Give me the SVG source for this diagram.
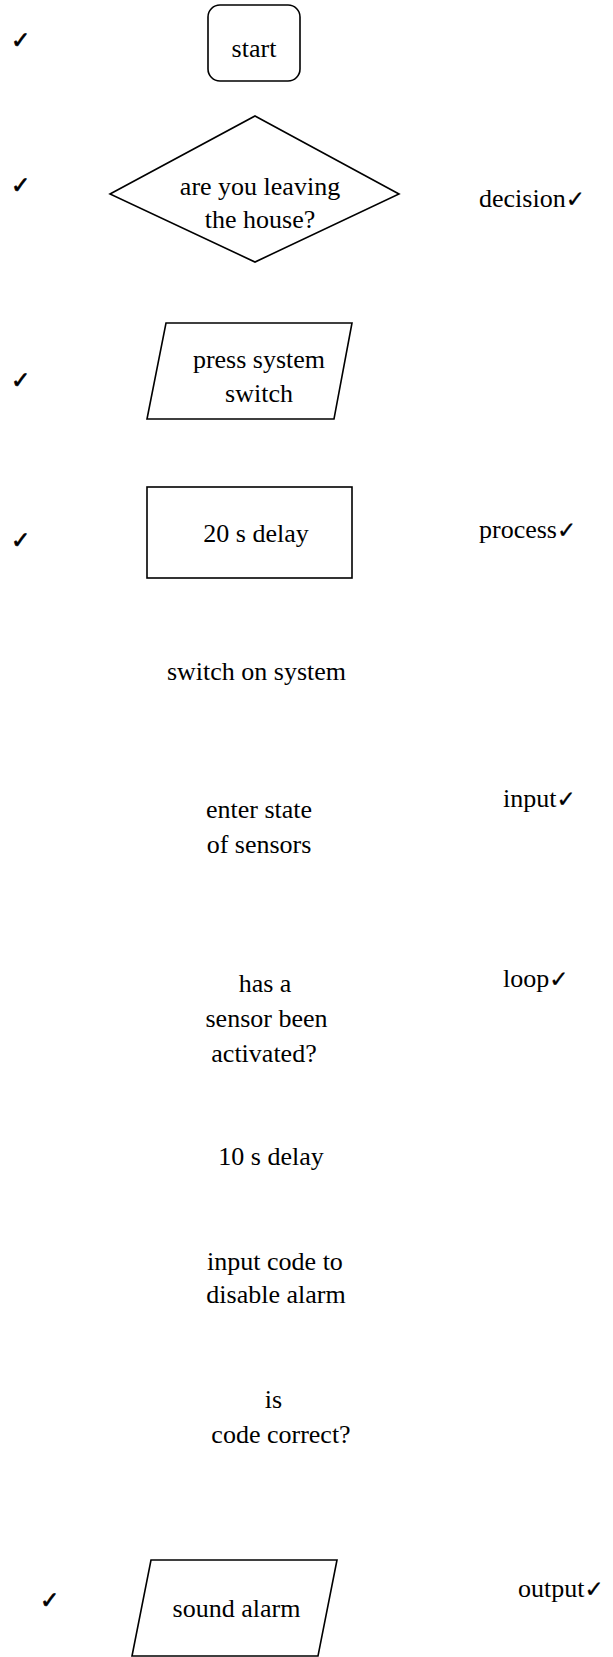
<svg xmlns="http://www.w3.org/2000/svg" width="613" height="1657" viewBox="0 0 613 1657">
<style>
.s{fill:#fff;stroke:#000;stroke-width:1.6}
.t{font-family:"Liberation Serif","Times New Roman",serif;font-size:26px;fill:#000;text-anchor:middle}
.l{font-family:"Liberation Serif","Times New Roman",serif;font-size:26px;fill:#000}
.c{font-family:"DejaVu Sans",sans-serif;font-size:23px;fill:#000;stroke:#000;stroke-width:0.7}
.k{font-family:"DejaVu Sans",sans-serif;font-size:23px;fill:#000;stroke:#000;stroke-width:0.3}
</style>
<rect width="613" height="1657" fill="#fff"/>
<g id="connectors"/>
<g id="start"><rect class="s" x="208" y="5" width="92" height="76" rx="12"/><text class="t" x="254" y="57">start</text></g>
<g id="decision1"><polygon class="s" points="255,116 399,194 255,262 110,194"/><text class="t" x="260" y="195">are you leaving</text><text class="t" x="260" y="228">the house?</text></g>
<g id="input1"><polygon class="s" points="166,323 352,323 334,419 147,419"/><text class="t" x="259" y="368">press system</text><text class="t" x="259" y="402">switch</text></g>
<g id="process1"><rect class="s" x="147" y="487" width="205" height="91"/><text class="t" x="256" y="542">20 s delay</text></g>
<g id="process2"><text class="t" x="256.5" y="680">switch on system</text></g>
<g id="input2"><text class="t" x="259" y="818">enter state</text><text class="t" x="259" y="853">of sensors</text></g>
<g id="decision2"><text class="t" x="265" y="992">has a</text><text class="t" x="266.5" y="1027">sensor been</text><text class="t" x="264" y="1062">activated?</text></g>
<g id="process3"><text class="t" x="271" y="1165">10 s delay</text></g>
<g id="input3"><text class="t" x="275" y="1270">input code to</text><text class="t" x="276" y="1303">disable alarm</text></g>
<g id="decision3"><text class="t" x="273.5" y="1408">is</text><text class="t" x="281" y="1443">code correct?</text></g>
<g id="output1"><polygon class="s" points="151,1560 337,1560 318,1656 132,1656"/><text class="t" x="236.5" y="1617">sound alarm</text></g>
<g id="labels">
<text class="l" x="479" y="207">decision<tspan class="k">✓</tspan></text>
<text class="l" x="479" y="538">process<tspan class="k">✓</tspan></text>
<text class="l" x="503" y="807">input<tspan class="k">✓</tspan></text>
<text class="l" x="503" y="987">loop<tspan class="k">✓</tspan></text>
<text class="l" x="518" y="1597">output<tspan class="k">✓</tspan></text>
</g>
<g id="ticks">
<text class="c" x="11" y="48">✓</text>
<text class="c" x="11" y="193">✓</text>
<text class="c" x="11" y="388">✓</text>
<text class="c" x="11" y="548">✓</text>
<text class="c" x="40" y="1608">✓</text>
</g>
</svg>
